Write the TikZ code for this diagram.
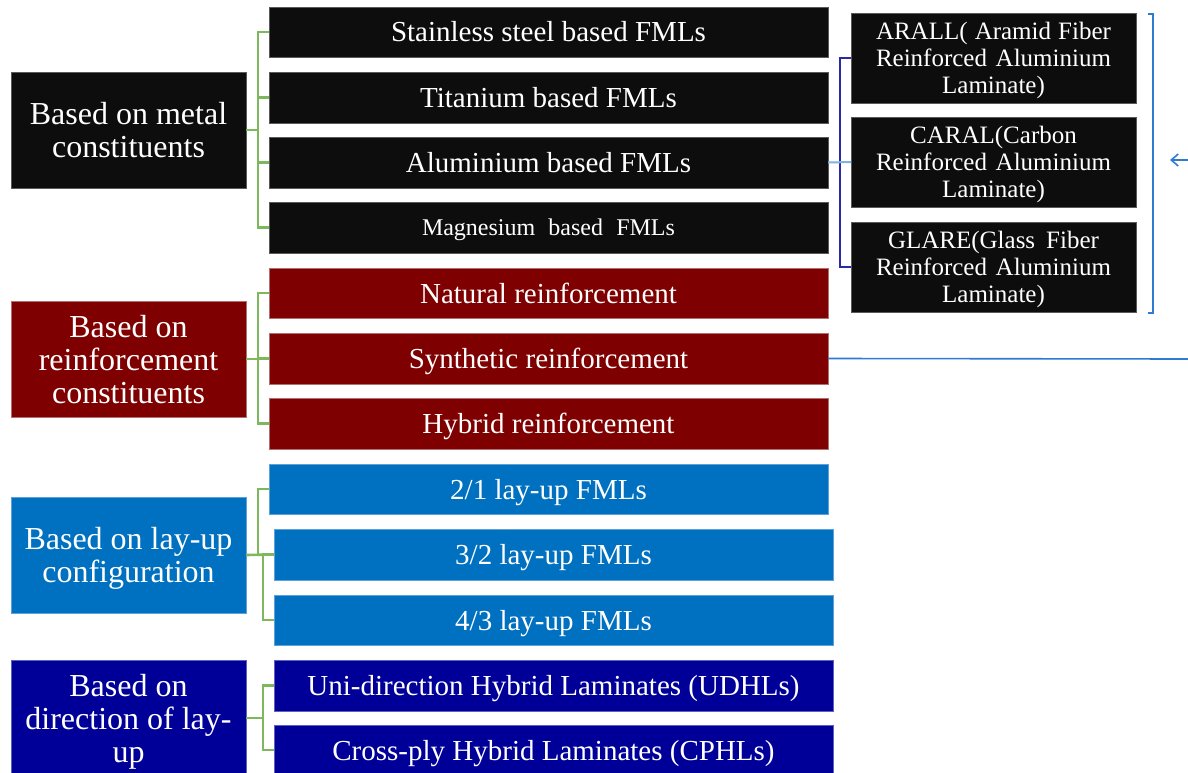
\documentclass[tikz,border=0pt]{standalone}
\usepackage{fontspec}
\setmainfont{Liberation Serif}
\usetikzlibrary{arrows.meta}
\definecolor{cBlk}{HTML}{0D0D0D}
\definecolor{cBlkD}{HTML}{5A5A5A}
\definecolor{cRed}{HTML}{7F0000}
\definecolor{cRedD}{HTML}{B07070}
\definecolor{cBlue}{HTML}{0070C0}
\definecolor{cBlueD}{HTML}{60A0D8}
\definecolor{cNavy}{HTML}{000099}
\definecolor{cNavyD}{HTML}{6060C0}
\definecolor{cGreen}{HTML}{7DB85C}
\definecolor{cLine}{HTML}{2E7BCF}
\definecolor{cLight}{HTML}{7FB2E0}
\definecolor{cBrk}{HTML}{2A2AA8}
\tikzset{
  box/.style={inner sep=0pt, outer sep=0pt, text=white, line width=0.7pt, align=center, anchor=north west},
  sz/.style 2 args={minimum width=#1pt, minimum height=#2pt},
  blk/.style={box, fill=cBlk, draw=cBlkD},
  red/.style={box, fill=cRed, draw=cRedD},
  blu/.style={box, fill=cBlue, draw=cBlueD},
  nav/.style={box, fill=cNavy, draw=cNavyD},
  bigtxt/.style={font=\fontsize{32}{33}\selectfont, text depth=0pt},
  midtxt/.style={font=\fontsize{29}{33}\selectfont, text height=20pt, text depth=0pt},
  smtxt/.style={font=\fontsize{25}{27}\selectfont, text depth=1pt},
  conn/.style={draw=cGreen, line width=2.6pt},
  bline/.style={draw=cLine, line width=1.6pt},
}
\begin{document}
\begin{tikzpicture}[x=1pt,y=-1pt]
\useasboundingbox (0,0) rectangle (1188,773);
\fill[white] (0,0) rectangle (1188,773);
% left category boxes
\node[blk, sz={235}{116}, bigtxt] (L1) at (11,72) {Based on metal\\constituents};
\node[red, sz={235}{116}, bigtxt] (L2) at (11,301) {Based on\\reinforcement\\constituents};
\node[blu, sz={235}{116}, bigtxt] (L3) at (11,497) {Based on lay-up\\configuration};
\node[nav, sz={235}{116}, bigtxt] (L4) at (11,660) {Based on\\direction of lay-\\up};
% right column
\node[blk, sz={559}{50}, midtxt] (R1) at (269,7) {Stainless steel based FMLs};
\node[blk, sz={559}{51}, midtxt] (R2) at (269,72) {Titanium based FMLs};
\node[blk, sz={559}{51}, midtxt] (R3) at (269,137) {Aluminium based FMLs};
\node[blk, sz={559}{51}, font=\fontsize{24}{27}\selectfont, text height=16pt, text depth=0pt] (R4) at (269,202) {\makebox[253pt][s]{Magnesium based FMLs}};
\node[red, sz={559}{50}, midtxt] (R5) at (269,268) {Natural reinforcement};
\node[red, sz={559}{51}, midtxt] (R6) at (269,333) {Synthetic reinforcement};
\node[red, sz={559}{51}, midtxt] (R7) at (269,398) {Hybrid reinforcement};
\node[blu, sz={559}{50}, midtxt] (R8) at (269,464) {2/1 lay-up FMLs};
\node[blu, sz={559}{51}, midtxt] (R9) at (274,529) {3/2 lay-up FMLs};
\node[blu, sz={559}{50}, midtxt] (R10) at (274,595) {4/3 lay-up FMLs};
\node[nav, sz={559}{51}, midtxt] (R11) at (274,660) {Uni-direction Hybrid Laminates (UDHLs)};
\node[nav, sz={559}{50}, midtxt] (R12) at (274,725) {Cross-ply Hybrid Laminates (CPHLs)};
% far right
\node[blk, sz={285}{90}, smtxt] (A1) at (851,13) {\makebox[235pt][s]{ARALL( Aramid Fiber}\\\makebox[235pt][s]{Reinforced Aluminium}\\Laminate)};
\node[blk, sz={285}{90}, smtxt] (A2) at (851,117) {CARAL(Carbon\\\makebox[235pt][s]{Reinforced Aluminium}\\Laminate)};
\node[blk, sz={285}{90}, smtxt] (A3) at (851,222) {\makebox[211pt][s]{GLARE(Glass Fiber}\\\makebox[235pt][s]{Reinforced Aluminium}\\Laminate)};
% green connectors
\draw[conn] (R1.west) -- ++(-11,0) |- (R4.west);
\draw[conn] (R2.west) -- ++(-11,0);
\draw[conn] (R3.west) -- ++(-11,0);
\draw[conn] (L1.east) -- ++(12,0);
\draw[conn] (R5.west) -- ++(-11,0) |- (R7.west);
\draw[conn] (R6.west) -- ++(-11,0);
\draw[conn] (L2.east) -- ++(12,0);
\draw[conn] (R8.west) -- ++(-11,0) |- (L3.east);
\draw[conn] (R9.west) -- ++(-11,0) |- (R10.west);
\draw[conn] (L3.east) -- (R9.west);
\draw[conn] (R11.west) -- ++(-11,0) |- (R12.west);
\draw[conn] (L4.east) -- ++(17,0);
% aluminium bracket
\draw[draw=cBrk, line width=2pt] (A1.west) -- ++(-11,0) |- (A3.west);
\draw[draw=cLight, line width=2pt] (R3.east) -- (A2.west);
% right bracket, arrow, line
\coordinate (bt) at (1148,14);
\coordinate (bb) at (1148,313);
\draw[bline] (bt) -- ++(5,0) -- ++(0,299) -- (bb);
\coordinate (arS) at (1188,160);
\coordinate (arE) at (1170,160);
\draw[bline, -{Straight Barb[length=7pt,width=12pt]}] (arS) -- (arE);
\coordinate (lnE) at (1188,359);
\draw[bline] (R6.east) -- (lnE);
\end{tikzpicture}
\end{document}
